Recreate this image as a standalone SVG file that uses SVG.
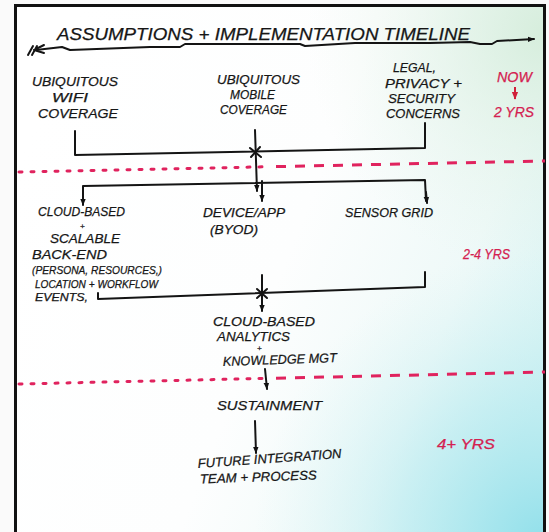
<svg xmlns="http://www.w3.org/2000/svg" width="549" height="532" viewBox="0 0 549 532">
<defs>
<linearGradient id="bg" x1="0" y1="0.3" x2="1" y2="0.7">
<stop offset="0" stop-color="#ffffff"/>
<stop offset="0.5" stop-color="#fdfefe"/>
<stop offset="0.8" stop-color="#eef9f8"/>
<stop offset="1" stop-color="#d6f3f3"/>
</linearGradient>
<radialGradient id="tr" cx="1" cy="0.05" r="0.45">
<stop offset="0" stop-color="#d3ecd9" stop-opacity="0.9"/>
<stop offset="1" stop-color="#e8f5ec" stop-opacity="0"/>
</radialGradient>
<radialGradient id="br" cx="1" cy="1" r="0.55" fx="1" fy="1">
<stop offset="0" stop-color="#8fdfea" stop-opacity="1"/>
<stop offset="0.5" stop-color="#b5eaf0" stop-opacity="0.6"/>
<stop offset="1" stop-color="#d6f3f4" stop-opacity="0"/>
</radialGradient>
<marker id="ah" viewBox="0 0 10 10" refX="9" refY="5" markerWidth="7" markerHeight="7" orient="auto" markerUnits="userSpaceOnUse">
<path d="M0,1 L10,5 L0,9 Z" fill="#111"/>
</marker>
<marker id="ahr" viewBox="0 0 10 10" refX="9" refY="5" markerWidth="8" markerHeight="8" orient="auto" markerUnits="userSpaceOnUse">
<path d="M0,1 L10,5 L0,9 Z" fill="#d0203a"/>
</marker>
</defs>
<style>
.t{font-family:"Liberation Sans",Arial,sans-serif;font-style:italic;fill:#161616;font-size:13px;stroke:#161616;stroke-width:0.25}
.ti{font-size:17px}
.s{font-size:10.5px}
.p{font-size:8px}
.r{fill:#d42150;stroke:#d42150;font-size:14px}
.ln{fill:none;stroke:#141414;stroke-width:2;stroke-linecap:round;stroke-linejoin:round}
.dot{fill:none;stroke:#e0235e;stroke-width:3;stroke-dasharray:3 9;stroke-linecap:round}
.dash{fill:none;stroke:#e0235e;stroke-width:3;stroke-dasharray:10 9}
</style>
<rect x="0" y="0" width="549" height="532" fill="#fafafa"/>
<rect x="15" y="5" width="530" height="540" fill="url(#bg)"/>
<rect x="15" y="5" width="530" height="540" fill="url(#tr)"/>
<rect x="15" y="5" width="530" height="540" fill="url(#br)"/>
<rect x="15.5" y="5.5" width="529" height="540" fill="none" stroke="#111" stroke-width="3"/>

<g id="title">
<text class="t ti" x="57" y="40" textLength="413" lengthAdjust="spacingAndGlyphs">ASSUMPTIONS  + IMPLEMENTATION  TIMELINE</text>
</g>

<g id="connectors">
<path class="ln" d="M36,50 L62,47 L70,50 L150,47 L180,47 L185,44 L300,44 L305,46 L355,43 L430,43 L470,42 L480,44 L492,44 L497,41 L534,39" marker-end="url(#ah)"/>
<path class="ln" d="M44,45 L34,50 L44,53 M28,55 L33,46 M32,55 L37,46"/>
<path class="ln" d="M75,131 L75,155 L425,148 L425,123"/>
<path class="ln" d="M255,130 L257,191" marker-end="url(#ah)"/>
<path class="ln" d="M250,148 L261,157 M260,147 L251,157" stroke-width="1.5"/>
<path class="ln" d="M83,203 L83,186 L425,180 L426,201"/>
<path class="ln" d="M83,192 L83,205" marker-end="url(#ah)"/>
<path class="ln" d="M262,181 L262,201" marker-end="url(#ah)"/>
<path class="ln" d="M426,192 L427,203" marker-end="url(#ah)"/>
<path class="ln" d="M98,293 L98,299 L425,287 L425,272"/>
<path class="ln" d="M262,275 L262,311" marker-end="url(#ah)"/>
<path class="ln" d="M257,289 L267,298 M267,289 L257,298" stroke-width="1.5"/>
<path class="ln" d="M265,369 L267,389" marker-end="url(#ah)"/>
<path class="ln" d="M255,421 L256,453" marker-end="url(#ah)"/>
<path class="dot" d="M19,172 L270,166.7"/>
<path class="dash" d="M276,166.6 L545,161"/>
<path class="dot" d="M19,384 L270,378.3"/>
<path class="dash" d="M276,378.2 L545,372"/>
<path d="M515,87 L515,99" fill="none" stroke="#d0203a" stroke-width="2" marker-end="url(#ahr)"/>
</g>

<g id="wifi">
<text class="t" x="32" y="86" textLength="86" lengthAdjust="spacingAndGlyphs">UBIQUITOUS</text>
<text class="t" x="52" y="102" textLength="36" lengthAdjust="spacingAndGlyphs">WIFI</text>
<text class="t" x="38" y="118" textLength="80" lengthAdjust="spacingAndGlyphs">COVERAGE</text>
</g>
<g id="mobile">
<text class="t" x="217" y="84" textLength="83" lengthAdjust="spacingAndGlyphs">UBIQUITOUS</text>
<text class="t" x="230" y="99" textLength="45" lengthAdjust="spacingAndGlyphs">MOBILE</text>
<text class="t" x="220" y="114" textLength="67" lengthAdjust="spacingAndGlyphs">COVERAGE</text>
</g>
<g id="legal">
<text class="t" x="393" y="72" textLength="43" lengthAdjust="spacingAndGlyphs">LEGAL,</text>
<text class="t" x="385" y="88" textLength="77" lengthAdjust="spacingAndGlyphs">PRIVACY +</text>
<text class="t" x="388" y="103" textLength="67" lengthAdjust="spacingAndGlyphs">SECURITY</text>
<text class="t" x="386" y="118" textLength="74" lengthAdjust="spacingAndGlyphs">CONCERNS</text>
</g>
<g id="now">
<text class="t r" x="497" y="82" textLength="35" lengthAdjust="spacingAndGlyphs">NOW</text>
<text class="t r" x="494" y="117" textLength="40" lengthAdjust="spacingAndGlyphs">2 YRS</text>
</g>

<g id="backend">
<text class="t" x="38" y="216" textLength="87" lengthAdjust="spacingAndGlyphs">CLOUD-BASED</text>
<text class="t p" x="80" y="228.5">+</text>
<text class="t" x="50" y="243" textLength="70" lengthAdjust="spacingAndGlyphs">SCALABLE</text>
<text class="t" x="32" y="259" textLength="75" lengthAdjust="spacingAndGlyphs">BACK-END</text>
<text class="t s" x="32" y="274" textLength="130" lengthAdjust="spacingAndGlyphs">(PERSONA, RESOURCES,)</text>
<text class="t s" x="35" y="287.5" textLength="123" lengthAdjust="spacingAndGlyphs">LOCATION + WORKFLOW</text>
<text class="t s" x="35" y="301" textLength="53" lengthAdjust="spacingAndGlyphs">EVENTS,</text>
</g>
<g id="device">
<text class="t" x="203" y="217" textLength="82" lengthAdjust="spacingAndGlyphs">DEVICE/APP</text>
<text class="t" x="210" y="234" textLength="48" lengthAdjust="spacingAndGlyphs">(BYOD)</text>
</g>
<g id="sensor">
<text class="t" x="345" y="217" textLength="88" lengthAdjust="spacingAndGlyphs">SENSOR GRID</text>
</g>
<g id="yrs24">
<text class="t r" x="463" y="259" textLength="47" lengthAdjust="spacingAndGlyphs">2-4 YRS</text>
</g>

<g id="analytics">
<text class="t" x="213" y="326" textLength="102" lengthAdjust="spacingAndGlyphs">CLOUD-BASED</text>
<text class="t" x="217" y="341" textLength="73" lengthAdjust="spacingAndGlyphs">ANALYTICS</text>
<text class="t p" x="257" y="351">+</text>
<text class="t" x="223" y="366" font-size="12" textLength="114" lengthAdjust="spacingAndGlyphs" transform="rotate(-2 223 366)">KNOWLEDGE MGT</text>
</g>
<g id="sustainment">
<text class="t" x="217" y="410" textLength="105" lengthAdjust="spacingAndGlyphs">SUSTAINMENT</text>
</g>
<g id="future">
<text class="t" x="198" y="468" textLength="144" lengthAdjust="spacingAndGlyphs" transform="rotate(-4 198 468)">FUTURE INTEGRATION</text>
<text class="t" x="200" y="483.5" textLength="117" lengthAdjust="spacingAndGlyphs" transform="rotate(-2 200 483.5)">TEAM + PROCESS</text>
</g>
<g id="yrs4">
<text class="t r" x="437" y="449" textLength="58" lengthAdjust="spacingAndGlyphs">4+ YRS</text>
</g>
</svg>
